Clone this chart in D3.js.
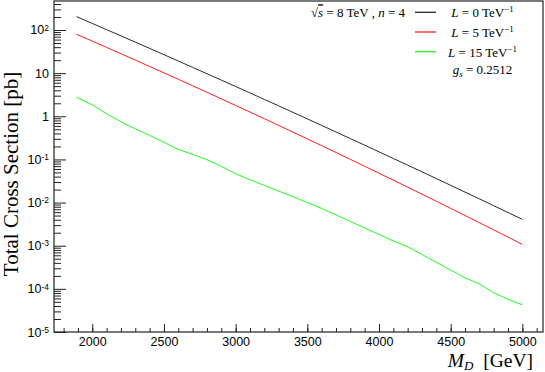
<!DOCTYPE html>
<html>
<head>
<meta charset="utf-8">
<script src="https://cdn.jsdelivr.net/npm/d3@7/dist/d3.min.js"></script>
<style>
  body { margin: 0; background: #fff; }
  .chart text { font-family: "Liberation Sans", Arial, sans-serif; fill: #000; }
  .chart text.tex { font-family: "Liberation Serif", "Times New Roman", serif; }
</style>
</head>
<body>
<div class="chart"></div>
<script>
// M_D values [GeV]
const massValues = [1890, 2000, 2100, 2200, 2300, 2400, 2500, 2600, 2700, 2800, 2900,
  3000, 3100, 3200, 3300, 3400, 3500, 3600, 3700, 3800, 3900,
  4000, 4100, 4200, 4300, 4400, 4500, 4600, 4700, 4800, 4900, 5000]

// total cross section [pb], L = 0 TeV^-1
const xsecL0 = [204, 142, 102, 73.1, 52.3, 37.5, 26.8, 19.1, 13.6, 9.70, 6.90,
  4.90, 3.48, 2.46, 1.745, 1.234, 0.871, 0.614, 0.433, 0.304, 0.214,
  0.150, 0.105, 0.0737, 0.0516, 0.0360, 0.0251, 0.0175, 0.0122, 0.00847, 0.00588, 0.00408]

// L = 5 TeV^-1
const xsecL5 = [79.7, 55.3, 39.5, 28.2, 20.1, 14.3, 10.17, 7.21, 5.10, 3.60, 2.54,
  1.786, 1.255, 0.880, 0.616, 0.430, 0.300, 0.2086, 0.1449, 0.1005, 0.0696,
  0.0480, 0.0331, 0.0228, 0.01566, 0.01074, 0.00735, 0.00502, 0.00342, 0.00233, 0.001585, 0.001074]

// L = 15 TeV^-1
const xsecL15 = [2.77, 1.85, 1.14, 0.75, 0.51, 0.362, 0.249, 0.171, 0.131, 0.0984, 0.0695,
  0.0469, 0.0338, 0.025, 0.0185, 0.0137, 0.01, 0.00733, 0.00519, 0.00366, 0.00258,
  0.00183, 0.00129, 0.000946, 0.000627, 0.000412, 0.000272, 0.000181, 0.00013, 0.0000809, 0.0000575, 0.0000425]

const seriesLabels = ['0', '5', '15']
const seriesColors = ['#2a2a2a', '#ff1a1a', '#1aff1a']
const xTicks = [2000, 2500, 3000, 3500, 4000, 4500, 5000]
const yTickExps = [-5, -4, -3, -2, -1, 0, 1, 2]

document.addEventListener('DOMContentLoaded', () => {

let w = 545,
    h = 372

const left = 54, right = 543, top = 1, bottom = 332

const svg = d3.select('.chart')
              .append('svg')
              .attr('width', w)
              .attr('height', h)

const x = d3.scaleLinear().domain([1733, 5144]).range([left, right])
const y = d3.scaleLog().domain([1e-5, 470]).range([bottom, top])

// x axis, ticks inside
svg.append('g')
   .attr('transform', `translate(0,${bottom})`)
   .call(d3.axisBottom(x).tickValues(d3.range(1800, 5101, 100)).tickSize(-4).tickSizeOuter(0).tickFormat(''))
   .call(g => g.select('.domain').remove())
svg.append('g')
   .attr('transform', `translate(0,${bottom})`)
   .call(d3.axisBottom(x).tickValues(xTicks).tickSize(-8).tickSizeOuter(0).tickPadding(5).tickFormat(d3.format('d')))
   .call(g => g.select('.domain').remove())
   .selectAll('text')
   .style('font-size', '12.5px')

// y axis
const minors = y.ticks().filter(v => Math.abs(Math.log10(v) - Math.round(Math.log10(v))) > 1e-6)
svg.append('g')
   .attr('transform', `translate(${left},0)`)
   .call(d3.axisLeft(y).tickValues(minors).tickSize(-7).tickSizeOuter(0).tickFormat(''))
   .call(g => g.select('.domain').remove())
const yAxis = svg.append('g')
   .attr('transform', `translate(${left},0)`)
   .call(d3.axisLeft(y).tickValues(yTickExps.map(e => Math.pow(10, e))).tickSize(-12).tickSizeOuter(0).tickPadding(5).tickFormat(''))
   .call(g => g.select('.domain').remove())

yAxis.selectAll('.tick text')
     .style('font-size', '12.5px')
     .each(function (d, i) {
        const e = yTickExps[i]
        const t = d3.select(this)
        if (e === 0) { t.text('1'); return }
        if (e === 1) { t.text('10'); return }
        t.append('tspan').text('10')
        t.append('tspan').text(e < 0 ? '-' + (-e) : e)
         .attr('dy', '-0.45em')
         .style('font-size', '8.5px')
     })

svg.selectAll('.tick line').attr('stroke', '#222')

// curves
const line = d3.line()
               .x((d, i) => x(massValues[i]))
               .y(d => y(d))

svg.selectAll('path.curve')
   .data([xsecL0, xsecL5, xsecL15])
   .enter()
   .append('path')
   .attr('class', 'curve')
   .attr('d', line)
   .attr('fill', 'none')
   .attr('stroke', (d, i) => seriesColors[i])
   .attr('stroke-width', 1)

// frame
svg.append('rect')
   .attr('x', left)
   .attr('y', top)
   .attr('width', right - left)
   .attr('height', bottom - top)
   .attr('fill', 'none')
   .attr('stroke', '#222')
   .attr('stroke-width', 1.2)

// axis titles
svg.append('text')
   .attr('class', 'tex')
   .attr('transform', 'translate(18,174) rotate(-90)')
   .attr('text-anchor', 'middle')
   .style('font-size', '21px')
   .text('Total Cross Section [pb]')

const xtitle = svg.append('text')
   .attr('class', 'tex')
   .attr('x', 533)
   .attr('y', 367)
   .attr('text-anchor', 'end')
   .style('font-size', '19.5px')
xtitle.append('tspan').text('M').style('font-style', 'italic')
xtitle.append('tspan').text('D').style('font-style', 'italic').style('font-size', '13px').attr('dy', 3)
xtitle.append('tspan').text('\u2002[GeV]').attr('dy', -3)

// legend
const legend = svg.append('g').attr('id', 'legend')

const rows = [12.3, 32, 51.7]

const info = legend.append('text')
   .attr('class', 'tex')
   .attr('x', 405)
   .attr('y', 17.3)
   .attr('text-anchor', 'end')
   .style('font-size', '13px')
info.append('tspan').text('√')
info.append('tspan').text('s').style('font-style', 'italic').style('text-decoration', 'overline')
info.append('tspan').text(' = 8 TeV , ')
info.append('tspan').text('n').style('font-style', 'italic')
info.append('tspan').text(' = 4')

legend.selectAll('line')
      .data(seriesLabels)
      .enter()
      .append('line')
      .attr('x1', 415)
      .attr('x2', 436)
      .attr('y1', (d, i) => rows[i])
      .attr('y2', (d, i) => rows[i])
      .attr('stroke', (d, i) => seriesColors[i])
      .attr('stroke-width', 1.3)

legend.selectAll('text.lab')
      .data(seriesLabels)
      .enter()
      .append('text')
      .attr('class', 'tex lab')
      .attr('x', 482.5)
      .attr('y', (d, i) => rows[i] + 5)
      .attr('text-anchor', 'middle')
      .style('font-size', '13px')
      .each(function (d) {
         const t = d3.select(this)
         t.append('tspan').text('L').style('font-style', 'italic')
         t.append('tspan').text(` = ${d} TeV`)
         t.append('tspan').text('−1').attr('dy', -5).style('font-size', '9px')
      })

const gs = legend.append('text')
   .attr('class', 'tex')
   .attr('x', 482.5)
   .attr('y', 73.5)
   .attr('text-anchor', 'middle')
   .style('font-size', '13px')
gs.append('tspan').text('g').style('font-style', 'italic')
gs.append('tspan').text('s').style('font-style', 'italic').style('font-size', '9px').attr('dy', 3)
gs.append('tspan').text(' = 0.2512').attr('dy', -3)

})
</script>
</body>
</html>
